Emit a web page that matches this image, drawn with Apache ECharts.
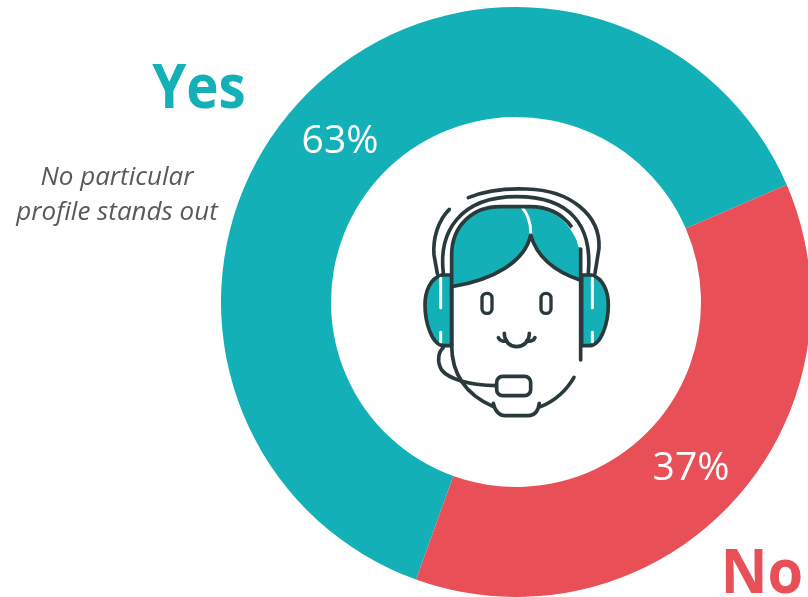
<!DOCTYPE html>
<html>
<head>
<meta charset="utf-8">
<style>html,body{margin:0;padding:0;background:#fff}#chart{width:808px;height:597px}</style>
<script src="https://cdn.jsdelivr.net/npm/echarts@6/dist/echarts.min.js"></script>
</head>
<body>
<div id="chart"></div>
<script>
const categories = ['Yes', 'No'];
const shares = [63, 37];
const sliceColors = ['#14B0B8', '#E84F57'];
const note = ['No particular', 'profile stands out'];
const percentAnchors = [[340, 142], [691, 469]];

const INK = '#2A3A3C';
const FONT = '"Open Sans", sans-serif';

// Each icon outline becomes a named shape so the graphic component can place it
let shapeCount = 0;
const pathShape = d => {
  const name = 'iconPath' + (shapeCount++);
  echarts.graphic.registerShape(name, echarts.graphic.extendPath(d, {}));
  return name;
};

// Headset agent icon, drawn in its own 645x750 space
const line = (d, extra) => ({
  type: pathShape(d),
  style: Object.assign({ fill: 'none', stroke: INK, lineWidth: 11, lineCap: 'round', lineJoin: 'round' }, extra)
});
const highlight = d => line(d, { stroke: '#fff', lineWidth: 9 });

const iconParts = [
  line('M175,68 C230,45 300,40 350,42 C480,45 572,120 567,220 L555,295'),
  line('M118,103 C85,135 68,190 72,240 L82,295'),
  line('M100,295 C85,170 150,65 320,65 C480,65 548,150 535,295'),
  line('M125,300 L95,300 C60,310 45,350 45,390 C45,440 65,510 100,512 L125,512 Z', { fill: '#14B0B8' }),
  line('M515,300 L545,300 C580,310 595,350 595,390 C595,440 575,510 540,512 L515,512 Z', { fill: '#14B0B8' }),
  highlight('M92,310 L92,398'),
  highlight('M92,472 L92,500'),
  highlight('M547,310 L547,398'),
  highlight('M547,472 L547,500'),
  line('M125,335 L125,240 C125,150 190,95 270,95 L360,95 C420,95 470,125 510,215 L510,315 C450,295 385,260 362,180 C345,260 250,315 125,335 Z', { fill: '#14B0B8', stroke: 'none' }),
  line('M125,335 C250,315 345,260 362,180 C385,260 450,295 510,315'),
  highlight('M337,98 C355,120 362,150 362,172'),
  line('M125,510 L125,240 C125,150 190,95 270,95 L360,95 C410,95 455,115 484,155'),
  highlight('M488,160 C498,175 505,195 509,212'),
  line('M512,222 L512,555'),
  line('M125,510 C125,600 170,660 250,695'),
  line('M392,695 C440,675 470,645 492,607'),
  line('M250,685 C255,710 270,722 285,722 L355,722 C375,722 385,705 388,685'),
  { type: 'rect', shape: { x: 216, y: 355, width: 30, height: 60, r: 14 }, style: { fill: 'none', stroke: INK, lineWidth: 10 } },
  { type: 'rect', shape: { x: 393, y: 355, width: 30, height: 60, r: 14 }, style: { fill: 'none', stroke: INK, lineWidth: 10 } },
  line('M283,475 C283,500 300,515 320,515 C340,515 358,500 358,475'),
  line('M265,488 C270,500 285,500 290,497'),
  line('M375,488 C370,500 355,500 350,497'),
  line('M100,518 C85,530 80,560 95,585 C115,610 170,630 260,632'),
  { type: 'rect', shape: { x: 260, y: 604, width: 102, height: 58, r: 18 }, style: { fill: '#fff', stroke: INK, lineWidth: 11 } }
];

const heading = (text, x, y, fill, size, squeeze) => ({
  type: 'text', x, y, scaleX: squeeze,
  style: { text, fill, font: 'bold ' + size + 'px ' + FONT, textAlign: 'center', textVerticalAlign: 'middle' }
});

const chart = echarts.init(document.getElementById('chart'));
chart.setOption({
  animation: false,
  backgroundColor: '#fff',
  series: [{
    type: 'pie',
    center: [516, 302],
    radius: [185, 295],
    startAngle: 250.2,
    clockwise: true,
    silent: true,
    labelLine: { show: false },
    label: {
      show: true,
      position: 'inside',
      formatter: '{c}%',
      color: '#fff',
      fontFamily: FONT,
      fontSize: 39,
      fontWeight: 400
    },
    labelLayout: p => ({ x: percentAnchors[p.dataIndex][0], y: percentAnchors[p.dataIndex][1], align: 'center', verticalAlign: 'middle' }),
    data: categories.map((name, i) => ({ name, value: shares[i], itemStyle: { color: sliceColors[i] } }))
  }],
  graphic: [
    heading(categories[0], 199, 91, sliceColors[0], 60, 0.91),
    heading(categories[1], 762, 576, sliceColors[1], 60, 0.96),
    { type: 'text', x: 117, y: 178, style: { text: note[0], fill: '#58595B', font: 'italic 26px ' + FONT, textAlign: 'center', textVerticalAlign: 'middle' } },
    { type: 'text', x: 117, y: 213, style: { text: note[1], fill: '#58595B', font: 'italic 26px ' + FONT, textAlign: 'center', textVerticalAlign: 'middle' } },
    { type: 'group', x: 410, y: 175, scaleX: 1 / 3, scaleY: 1 / 3, children: iconParts }
  ]
});
</script>
</body>
</html>
